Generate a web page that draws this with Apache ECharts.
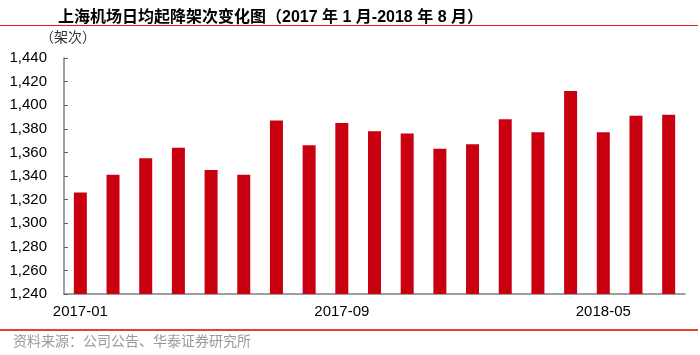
<!DOCTYPE html>
<html>
<head>
<meta charset="utf-8">
<script src="https://cdn.jsdelivr.net/npm/echarts@6/dist/echarts.min.js"></script>
<style>
  html, body { margin: 0; padding: 0; background: #fff; }
  #main { width: 700px; height: 355px; }
</style>
</head>
<body>
<div id="main"></div>
<script type="text/javascript">
// 月份（2017-01 起）
var months = ['2017-01','2017-02','2017-03','2017-04','2017-05','2017-06','2017-07','2017-08',
              '2017-09','2017-10','2017-11','2017-12','2018-01','2018-02','2018-03','2018-04',
              '2018-05','2018-06','2018-07'];
// 日均起降架次
var flights = [1326, 1341, 1355, 1364, 1345, 1341, 1387, 1366, 1385, 1378,
               1376, 1363, 1367, 1388, 1377, 1412, 1377, 1391, 1392];

var myChart = echarts.init(document.getElementById('main'));
var option = {
    animation: false,
    backgroundColor: '#fff',
    title: {
        text: '上海机场日均起降架次变化图（2017 年 1 月-2018 年 8 月）',
        left: 53,
        top: 5,
        textStyle: {
            fontFamily: 'Arial, "Noto Sans CJK SC"',
            fontSize: 16,
            fontWeight: 'bold',
            color: '#000'
        }
    },
    graphic: [
        { type: 'line', shape: { x1: 0, y1: 25.5, x2: 698, y2: 25.5 },
          style: { stroke: '#e0201f', lineWidth: 1 } },
        { type: 'text', left: 40, top: 30,
          style: { text: '（架次）', fontSize: 14, fill: '#333',
                   fontFamily: '"Noto Sans CJK SC"' } },
        { type: 'line', shape: { x1: 0, y1: 330, x2: 698, y2: 330 },
          style: { stroke: '#e8402f', lineWidth: 2 } },
        { type: 'text', left: 13, top: 334,
          style: { text: '资料来源：公司公告、华泰证券研究所', fontSize: 14, fill: '#999',
                   fontFamily: '"Noto Sans CJK SC"' } }
    ],
    grid: { left: 64, right: 15, top: 58, bottom: 61 },
    xAxis: {
        type: 'category',
        data: months,
        axisLine: { lineStyle: { color: '#808080', width: 1.5 } },
        axisTick: { interval: 7, inside: true, length: 4, lineStyle: { color: '#606060' } },
        axisLabel: {
            interval: 7,
            margin: 10,
            fontSize: 15,
            color: '#000',
            fontFamily: 'Arial, "Liberation Sans"'
        }
    },
    yAxis: {
        type: 'value',
        min: 1240,
        max: 1440,
        interval: 20,
        splitLine: { show: false },
        axisLine: { show: true, lineStyle: { color: '#808080', width: 1.5 } },
        axisTick: { show: true, inside: true, length: 4, lineStyle: { color: '#606060' } },
        axisLabel: {
            margin: 17,
            fontSize: 15,
            color: '#000',
            fontFamily: 'Arial, "Liberation Sans"',
            formatter: function (v) { return v.toLocaleString('en-US'); }
        }
    },
    series: [{
        type: 'bar',
        data: flights,
        barWidth: 13,
        itemStyle: { color: '#c8000f' }
    }]
};
myChart.setOption(option);
</script>
</body>
</html>
